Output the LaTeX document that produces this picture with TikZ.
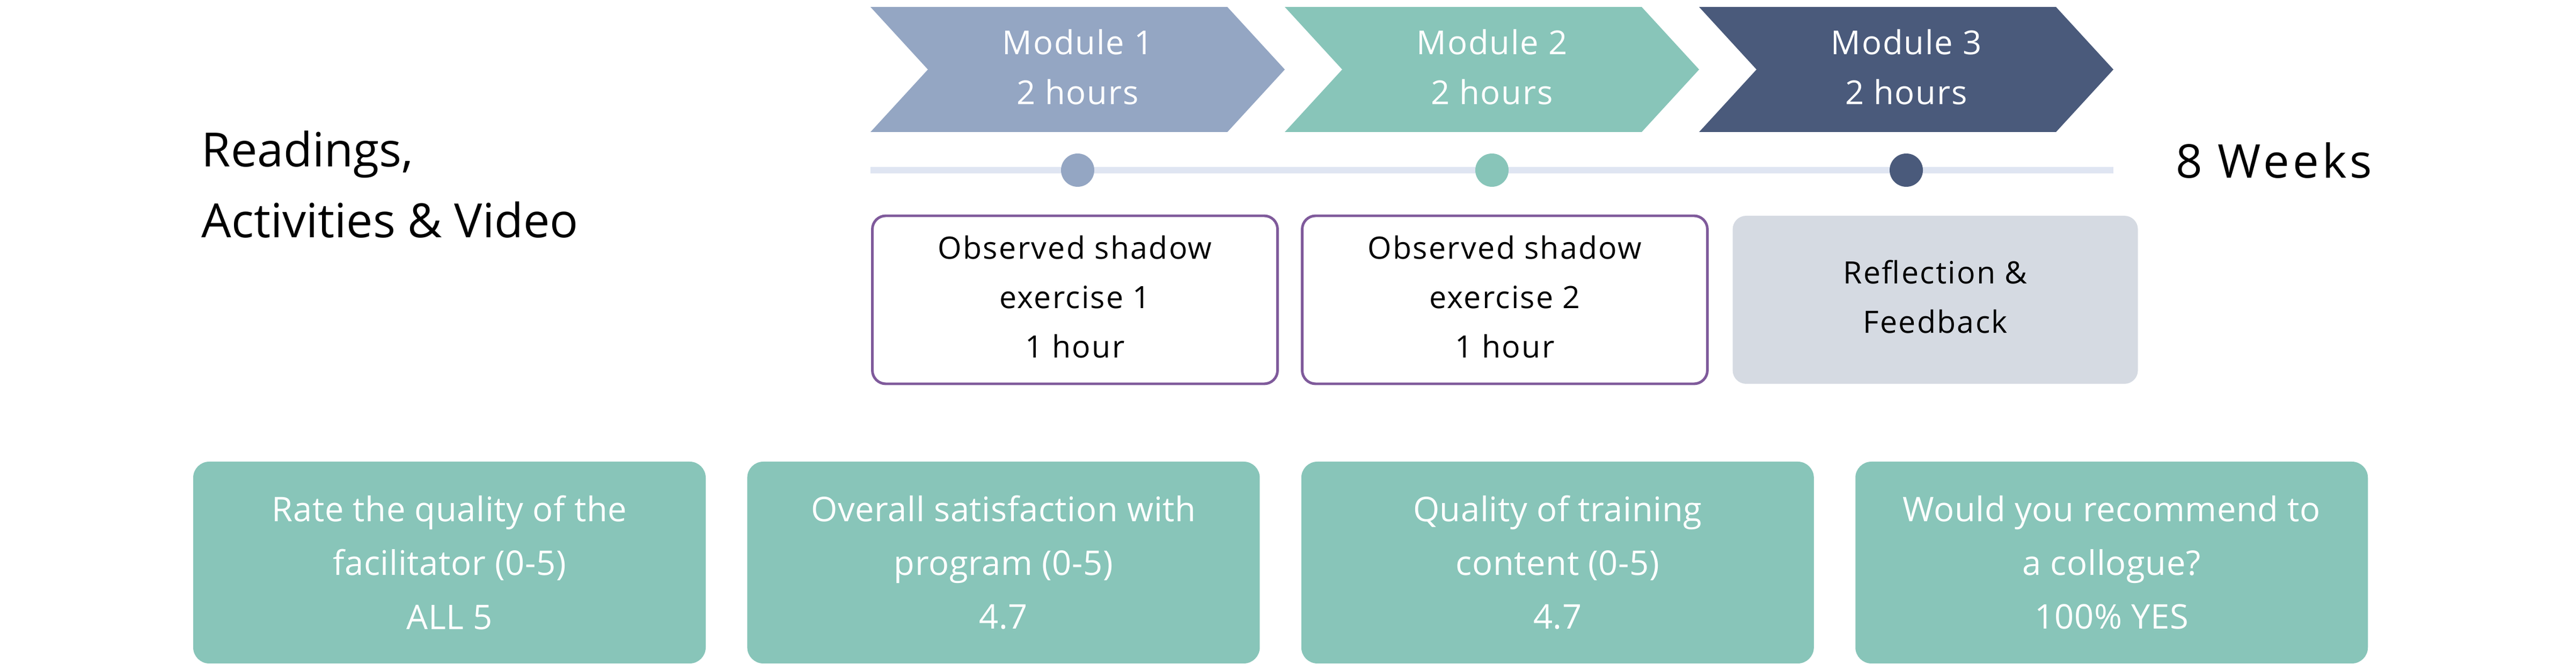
\documentclass[tikz,border=0pt]{standalone}
\usepackage{fontspec}
\setmainfont{Open Sans}
\usetikzlibrary{positioning}
\definecolor{slate}{RGB}{148,166,195}
\definecolor{teal}{RGB}{136,197,185}
\definecolor{navy}{RGB}{74,90,123}
\definecolor{track}{RGB}{223,229,242}
\definecolor{cloud}{RGB}{213,218,226}
\definecolor{plum}{RGB}{127,90,155}

\begin{document}
\begin{tikzpicture}[
  modtext/.style={text=white, align=center, font=\fontsize{17.5}{26.5}\selectfont\addfontfeature{LetterSpace=3}},
  dotmark/.style={circle, inner sep=0pt, minimum size=0.62cm},
  exbox/.style={rounded corners=0.25cm, minimum width=7.55cm, minimum height=3.13cm, text depth=0.12cm,
    align=center, font=\fontsize{16.3}{26.2}\selectfont\addfontfeature{LetterSpace=4}},
  scorebox/.style={fill=teal, text=white, rounded corners=0.3cm, minimum width=9.55cm,
    minimum height=3.76cm, align=center, font=\fontsize{18}{28.5}\selectfont\addfontfeature{LetterSpace=1}}
]
\useasboundingbox (0,0) rectangle (48,12.5);

% module chevrons
\fill[slate] (16.22,12.37) -- (22.87,12.37) -- (23.94,11.205) -- (22.87,10.04) -- (16.22,10.04) -- (17.29,11.205) -- cycle;
\fill[teal] (23.94,12.37) -- (30.59,12.37) -- (31.66,11.205) -- (30.59,10.04) -- (23.94,10.04) -- (25.01,11.205) -- cycle;
\fill[navy] (31.66,12.37) -- (38.31,12.37) -- (39.38,11.205) -- (38.31,10.04) -- (31.66,10.04) -- (32.73,11.205) -- cycle;

\node[modtext] (mod1) at (20.08,11.25) {Module 1\\2 hours};
\node[modtext] (mod2) at (27.80,11.25) {Module 2\\2 hours};
\node[modtext] (mod3) at (35.52,11.25) {Module 3\\2 hours};

% timeline
\coordinate (tlstart) at (16.22,9.33);
\coordinate (tlend) at (39.38,9.33);
\draw[track, line width=0.12cm] (tlstart) -- (tlend);
\node[dotmark, fill=slate] (dot1) at (20.08,9.33) {};
\node[dotmark, fill=teal] (dot2) at (27.80,9.33) {};
\node[dotmark, fill=navy] (dot3) at (35.52,9.33) {};

\node[anchor=west, align=left, inner sep=0pt, font=\fontsize{25}{37.6}\selectfont] (readings) at (3.75,9.065) {Readings,\\Activities \& Video};
\node[anchor=base west, inner sep=0pt, font=\fontsize{24.7}{30}\selectfont\addfontfeature{LetterSpace=7}] (weeks) at (40.54,9.18) {8 Weeks};

% shadow exercises
\node[exbox, draw=plum, line width=1.4pt] (ex1) at (20.03,6.915) {Observed shadow\\exercise 1\\1 hour};
\node[exbox, draw=plum, line width=1.4pt, right=0.41cm of ex1] (ex2) {Observed shadow\\exercise 2\\1 hour};
\node[exbox, fill=cloud, right=0.44cm of ex2] (refl) {Reflection \&\\Feedback};

% survey results
\node[scorebox] (q1) at (8.375,2.02) {Rate the quality of the\\facilitator (0-5)\\ALL 5};
\node[scorebox, right=0.76cm of q1] (q2) {Overall satisfaction with\\program (0-5)\\4.7};
\node[scorebox, right=0.76cm of q2] (q3) {Quality of training\\content (0-5)\\4.7};
\node[scorebox, right=0.76cm of q3] (q4) {Would you recommend to\\a collogue?\\100\% YES};

\end{tikzpicture}
\end{document}
